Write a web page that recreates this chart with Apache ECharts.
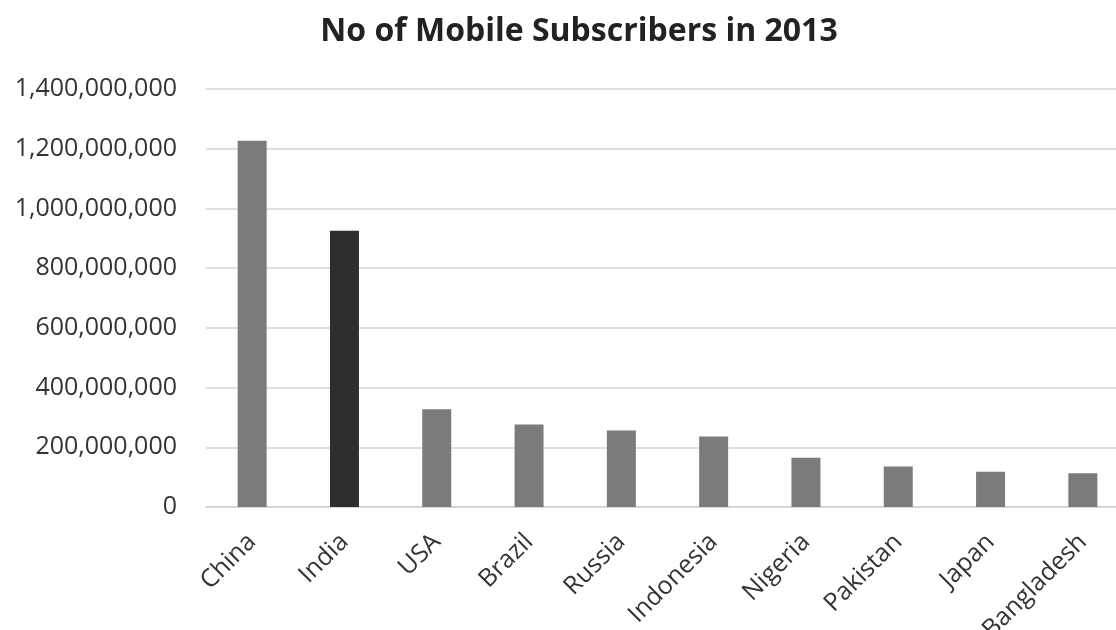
<!DOCTYPE html>
<html>
<head>
<meta charset="utf-8">
<script src="https://cdn.jsdelivr.net/npm/echarts@6/dist/echarts.min.js"></script>
<style>
  html, body { margin: 0; padding: 0; background: #fff; }
  #chart { width: 1116px; height: 630px; }
</style>
</head>
<body>
<div id="chart"></div>
<script>
// Mobile subscribers by country, 2013
const countries = ['China', 'India', 'USA', 'Brazil', 'Russia', 'Indonesia', 'Nigeria', 'Pakistan', 'Japan', 'Bangladesh'];
const subscribers = [1227000000, 925000000, 327000000, 276000000, 256000000, 236000000, 165000000, 136000000, 118000000, 113000000];
const highlighted = 'India';

const baseColor = '#7b7b7b';
const highlightColor = '#2e2e2e';

const chart = echarts.init(document.getElementById('chart'));
chart.setOption({
  animation: false,
  backgroundColor: '#ffffff',
  title: {
    text: 'No of Mobile Subscribers in 2013',
    left: 574,
    top: 11,
    textAlign: 'center',
    textStyle: { fontFamily: 'Open Sans', fontWeight: 'bold', fontSize: 32, color: '#222' }
  },
  grid: {
    left: 206, top: 89, width: 923, height: 418,
    containLabel: false,
    outerBoundsMode: 'none'
  },
  xAxis: {
    type: 'category',
    data: countries,
    axisTick: { show: false },
    axisLine: { lineStyle: { color: '#d4d4d4', width: 1.5 } },
    axisLabel: {
      rotate: 45,
      margin: 31,
      interval: 0,
      fontFamily: 'Open Sans',
      fontSize: 25,
      color: '#333'
    }
  },
  yAxis: {
    type: 'value',
    min: 0,
    max: 1400000000,
    interval: 200000000,
    axisLine: { show: false },
    axisTick: { show: false },
    splitLine: { lineStyle: { color: '#d4d4d4', width: 1.5 } },
    axisLabel: {
      margin: 29,
      fontFamily: 'Open Sans',
      fontSize: 25,
      color: '#333',
      formatter: v => v.toLocaleString('en-US')
    }
  },
  series: [{
    type: 'bar',
    barWidth: 29,
    data: subscribers.map((v, i) => ({
      value: v,
      itemStyle: { color: countries[i] === highlighted ? highlightColor : baseColor }
    }))
  }]
});
</script>
</body>
</html>
